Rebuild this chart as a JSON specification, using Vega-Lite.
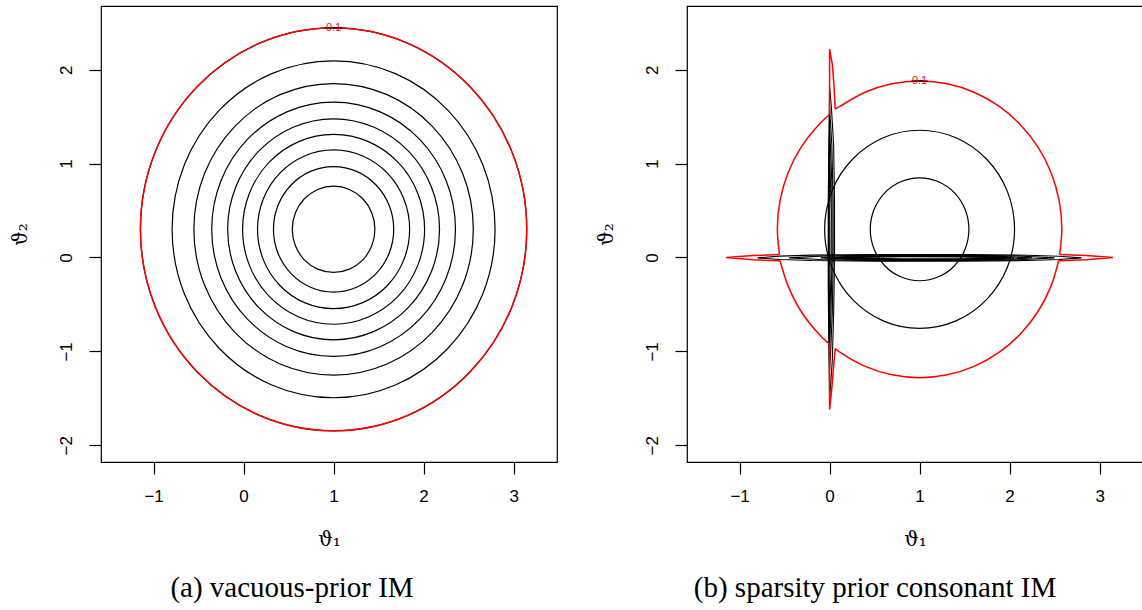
{
  "$schema": "https://vega.github.io/schema/vega-lite/v6.json",
  "background": "white",
  "padding": {"left": 9, "top": 5, "right": 0, "bottom": 0},
  "spacing": 37,
  "datasets": {
    "vacuous": [
      {"contour":"a1","i":0,"t1":3.146,"t2":0.3},{"contour":"a1","i":1,"t1":2.983,"t2":1.121},{"contour":"a1","i":2,"t1":2.517,"t2":1.817},{"contour":"a1","i":3,"t1":1.821,"t2":2.283},{"contour":"a1","i":4,"t1":1,"t2":2.446},{"contour":"a1","i":5,"t1":0.179,"t2":2.283},{"contour":"a1","i":6,"t1":-0.517,"t2":1.817},{"contour":"a1","i":7,"t1":-0.983,"t2":1.121},{"contour":"a1","i":8,"t1":-1.146,"t2":0.3},{"contour":"a1","i":9,"t1":-0.983,"t2":-0.521},{"contour":"a1","i":10,"t1":-0.517,"t2":-1.217},{"contour":"a1","i":11,"t1":0.179,"t2":-1.683},{"contour":"a1","i":12,"t1":1,"t2":-1.846},{"contour":"a1","i":13,"t1":1.821,"t2":-1.683},{"contour":"a1","i":14,"t1":2.517,"t2":-1.217},{"contour":"a1","i":15,"t1":2.983,"t2":-0.521},
      {"contour":"a2","i":0,"t1":2.794,"t2":0.3},{"contour":"a2","i":1,"t1":2.658,"t2":0.987},{"contour":"a2","i":2,"t1":2.269,"t2":1.569},{"contour":"a2","i":3,"t1":1.687,"t2":1.958},{"contour":"a2","i":4,"t1":1,"t2":2.094},{"contour":"a2","i":5,"t1":0.313,"t2":1.958},{"contour":"a2","i":6,"t1":-0.269,"t2":1.569},{"contour":"a2","i":7,"t1":-0.658,"t2":0.987},{"contour":"a2","i":8,"t1":-0.794,"t2":0.3},{"contour":"a2","i":9,"t1":-0.658,"t2":-0.387},{"contour":"a2","i":10,"t1":-0.269,"t2":-0.969},{"contour":"a2","i":11,"t1":0.313,"t2":-1.358},{"contour":"a2","i":12,"t1":1,"t2":-1.494},{"contour":"a2","i":13,"t1":1.687,"t2":-1.358},{"contour":"a2","i":14,"t1":2.269,"t2":-0.969},{"contour":"a2","i":15,"t1":2.658,"t2":-0.387},
      {"contour":"a3","i":0,"t1":2.552,"t2":0.3},{"contour":"a3","i":1,"t1":2.434,"t2":0.894},{"contour":"a3","i":2,"t1":2.097,"t2":1.397},{"contour":"a3","i":3,"t1":1.594,"t2":1.734},{"contour":"a3","i":4,"t1":1,"t2":1.852},{"contour":"a3","i":5,"t1":0.406,"t2":1.734},{"contour":"a3","i":6,"t1":-0.097,"t2":1.397},{"contour":"a3","i":7,"t1":-0.434,"t2":0.894},{"contour":"a3","i":8,"t1":-0.552,"t2":0.3},{"contour":"a3","i":9,"t1":-0.434,"t2":-0.294},{"contour":"a3","i":10,"t1":-0.097,"t2":-0.797},{"contour":"a3","i":11,"t1":0.406,"t2":-1.134},{"contour":"a3","i":12,"t1":1,"t2":-1.252},{"contour":"a3","i":13,"t1":1.594,"t2":-1.134},{"contour":"a3","i":14,"t1":2.097,"t2":-0.797},{"contour":"a3","i":15,"t1":2.434,"t2":-0.294},
      {"contour":"a4","i":0,"t1":2.354,"t2":0.3},{"contour":"a4","i":1,"t1":2.251,"t2":0.818},{"contour":"a4","i":2,"t1":1.957,"t2":1.257},{"contour":"a4","i":3,"t1":1.518,"t2":1.551},{"contour":"a4","i":4,"t1":1,"t2":1.654},{"contour":"a4","i":5,"t1":0.482,"t2":1.551},{"contour":"a4","i":6,"t1":0.043,"t2":1.257},{"contour":"a4","i":7,"t1":-0.251,"t2":0.818},{"contour":"a4","i":8,"t1":-0.354,"t2":0.3},{"contour":"a4","i":9,"t1":-0.251,"t2":-0.218},{"contour":"a4","i":10,"t1":0.043,"t2":-0.657},{"contour":"a4","i":11,"t1":0.482,"t2":-0.951},{"contour":"a4","i":12,"t1":1,"t2":-1.054},{"contour":"a4","i":13,"t1":1.518,"t2":-0.951},{"contour":"a4","i":14,"t1":1.957,"t2":-0.657},{"contour":"a4","i":15,"t1":2.251,"t2":-0.218},
      {"contour":"a5","i":0,"t1":2.177,"t2":0.3},{"contour":"a5","i":1,"t1":2.087,"t2":0.75},{"contour":"a5","i":2,"t1":1.832,"t2":1.132},{"contour":"a5","i":3,"t1":1.45,"t2":1.387},{"contour":"a5","i":4,"t1":1,"t2":1.477},{"contour":"a5","i":5,"t1":0.55,"t2":1.387},{"contour":"a5","i":6,"t1":0.168,"t2":1.132},{"contour":"a5","i":7,"t1":-0.087,"t2":0.75},{"contour":"a5","i":8,"t1":-0.177,"t2":0.3},{"contour":"a5","i":9,"t1":-0.087,"t2":-0.15},{"contour":"a5","i":10,"t1":0.168,"t2":-0.532},{"contour":"a5","i":11,"t1":0.55,"t2":-0.787},{"contour":"a5","i":12,"t1":1,"t2":-0.877},{"contour":"a5","i":13,"t1":1.45,"t2":-0.787},{"contour":"a5","i":14,"t1":1.832,"t2":-0.532},{"contour":"a5","i":15,"t1":2.087,"t2":-0.15},
      {"contour":"a6","i":0,"t1":2.011,"t2":0.3},{"contour":"a6","i":1,"t1":1.934,"t2":0.687},{"contour":"a6","i":2,"t1":1.715,"t2":1.015},{"contour":"a6","i":3,"t1":1.387,"t2":1.234},{"contour":"a6","i":4,"t1":1,"t2":1.311},{"contour":"a6","i":5,"t1":0.613,"t2":1.234},{"contour":"a6","i":6,"t1":0.285,"t2":1.015},{"contour":"a6","i":7,"t1":0.066,"t2":0.687},{"contour":"a6","i":8,"t1":-0.011,"t2":0.3},{"contour":"a6","i":9,"t1":0.066,"t2":-0.087},{"contour":"a6","i":10,"t1":0.285,"t2":-0.415},{"contour":"a6","i":11,"t1":0.613,"t2":-0.634},{"contour":"a6","i":12,"t1":1,"t2":-0.711},{"contour":"a6","i":13,"t1":1.387,"t2":-0.634},{"contour":"a6","i":14,"t1":1.715,"t2":-0.415},{"contour":"a6","i":15,"t1":1.934,"t2":-0.087},
      {"contour":"a7","i":0,"t1":1.845,"t2":0.3},{"contour":"a7","i":1,"t1":1.781,"t2":0.623},{"contour":"a7","i":2,"t1":1.598,"t2":0.898},{"contour":"a7","i":3,"t1":1.323,"t2":1.081},{"contour":"a7","i":4,"t1":1,"t2":1.145},{"contour":"a7","i":5,"t1":0.677,"t2":1.081},{"contour":"a7","i":6,"t1":0.403,"t2":0.898},{"contour":"a7","i":7,"t1":0.219,"t2":0.623},{"contour":"a7","i":8,"t1":0.155,"t2":0.3},{"contour":"a7","i":9,"t1":0.219,"t2":-0.023},{"contour":"a7","i":10,"t1":0.403,"t2":-0.298},{"contour":"a7","i":11,"t1":0.677,"t2":-0.481},{"contour":"a7","i":12,"t1":1,"t2":-0.545},{"contour":"a7","i":13,"t1":1.323,"t2":-0.481},{"contour":"a7","i":14,"t1":1.598,"t2":-0.298},{"contour":"a7","i":15,"t1":1.781,"t2":-0.023},
      {"contour":"a8","i":0,"t1":1.668,"t2":0.3},{"contour":"a8","i":1,"t1":1.617,"t2":0.556},{"contour":"a8","i":2,"t1":1.472,"t2":0.772},{"contour":"a8","i":3,"t1":1.256,"t2":0.917},{"contour":"a8","i":4,"t1":1,"t2":0.968},{"contour":"a8","i":5,"t1":0.744,"t2":0.917},{"contour":"a8","i":6,"t1":0.528,"t2":0.772},{"contour":"a8","i":7,"t1":0.383,"t2":0.556},{"contour":"a8","i":8,"t1":0.332,"t2":0.3},{"contour":"a8","i":9,"t1":0.383,"t2":0.044},{"contour":"a8","i":10,"t1":0.528,"t2":-0.172},{"contour":"a8","i":11,"t1":0.744,"t2":-0.317},{"contour":"a8","i":12,"t1":1,"t2":-0.368},{"contour":"a8","i":13,"t1":1.256,"t2":-0.317},{"contour":"a8","i":14,"t1":1.472,"t2":-0.172},{"contour":"a8","i":15,"t1":1.617,"t2":0.044},
      {"contour":"a9","i":0,"t1":1.459,"t2":0.3},{"contour":"a9","i":1,"t1":1.424,"t2":0.476},{"contour":"a9","i":2,"t1":1.325,"t2":0.625},{"contour":"a9","i":3,"t1":1.176,"t2":0.724},{"contour":"a9","i":4,"t1":1,"t2":0.759},{"contour":"a9","i":5,"t1":0.824,"t2":0.724},{"contour":"a9","i":6,"t1":0.675,"t2":0.625},{"contour":"a9","i":7,"t1":0.576,"t2":0.476},{"contour":"a9","i":8,"t1":0.541,"t2":0.3},{"contour":"a9","i":9,"t1":0.576,"t2":0.124},{"contour":"a9","i":10,"t1":0.675,"t2":-0.025},{"contour":"a9","i":11,"t1":0.824,"t2":-0.124},{"contour":"a9","i":12,"t1":1,"t2":-0.159},{"contour":"a9","i":13,"t1":1.176,"t2":-0.124},{"contour":"a9","i":14,"t1":1.325,"t2":-0.025},{"contour":"a9","i":15,"t1":1.424,"t2":0.124}
    ],
    "sparsity_circles": [
      {"contour":"b2","i":0,"t1":2.055,"t2":0.3},{"contour":"b2","i":1,"t1":1.975,"t2":0.704},{"contour":"b2","i":2,"t1":1.746,"t2":1.046},{"contour":"b2","i":3,"t1":1.404,"t2":1.275},{"contour":"b2","i":4,"t1":1,"t2":1.355},{"contour":"b2","i":5,"t1":0.596,"t2":1.275},{"contour":"b2","i":6,"t1":0.254,"t2":1.046},{"contour":"b2","i":7,"t1":0.025,"t2":0.704},{"contour":"b2","i":8,"t1":-0.055,"t2":0.3},{"contour":"b2","i":9,"t1":0.025,"t2":-0.104},{"contour":"b2","i":10,"t1":0.254,"t2":-0.446},{"contour":"b2","i":11,"t1":0.596,"t2":-0.675},{"contour":"b2","i":12,"t1":1,"t2":-0.755},{"contour":"b2","i":13,"t1":1.404,"t2":-0.675},{"contour":"b2","i":14,"t1":1.746,"t2":-0.446},{"contour":"b2","i":15,"t1":1.975,"t2":-0.104},
      {"contour":"b3","i":0,"t1":1.548,"t2":0.3},{"contour":"b3","i":1,"t1":1.506,"t2":0.51},{"contour":"b3","i":2,"t1":1.388,"t2":0.688},{"contour":"b3","i":3,"t1":1.21,"t2":0.806},{"contour":"b3","i":4,"t1":1,"t2":0.848},{"contour":"b3","i":5,"t1":0.79,"t2":0.806},{"contour":"b3","i":6,"t1":0.613,"t2":0.688},{"contour":"b3","i":7,"t1":0.494,"t2":0.51},{"contour":"b3","i":8,"t1":0.452,"t2":0.3},{"contour":"b3","i":9,"t1":0.494,"t2":0.09},{"contour":"b3","i":10,"t1":0.613,"t2":-0.088},{"contour":"b3","i":11,"t1":0.79,"t2":-0.206},{"contour":"b3","i":12,"t1":1,"t2":-0.248},{"contour":"b3","i":13,"t1":1.21,"t2":-0.206},{"contour":"b3","i":14,"t1":1.388,"t2":-0.088},{"contour":"b3","i":15,"t1":1.506,"t2":0.09}
    ],
    "sparsity_red": [
      {"piece":"arc_ur","kind":"arc","i":1,"t1":2.556,"t2":0.032},{"piece":"arc_ur","kind":"arc","i":2,"t1":2.58,"t2":0.3},{"piece":"arc_ur","kind":"arc","i":3,"t1":2.55,"t2":0.608},{"piece":"arc_ur","kind":"arc","i":4,"t1":2.46,"t2":0.905},{"piece":"arc_ur","kind":"arc","i":5,"t1":2.314,"t2":1.178},{"piece":"arc_ur","kind":"arc","i":6,"t1":2.117,"t2":1.417},{"piece":"arc_ur","kind":"arc","i":7,"t1":1.878,"t2":1.614},{"piece":"arc_ur","kind":"arc","i":8,"t1":1.605,"t2":1.76},{"piece":"arc_ur","kind":"arc","i":9,"t1":1.308,"t2":1.85},{"piece":"arc_ur","kind":"arc","i":10,"t1":1,"t2":1.88},{"piece":"arc_ur","kind":"arc","i":11,"t1":0.692,"t2":1.85},{"piece":"arc_ur","kind":"arc","i":12,"t1":0.395,"t2":1.76},{"piece":"arc_ur","kind":"arc","i":13,"t1":0.122,"t2":1.614},{"piece":"arc_ur","kind":"arc","i":14,"t1":0.063,"t2":1.58},
      {"piece":"spike_t","kind":"spike","i":1,"t1":0.063,"t2":1.58},{"piece":"spike_t","kind":"spike","i":2,"t1":0.048,"t2":1.85},{"piece":"spike_t","kind":"spike","i":3,"t1":0.03,"t2":2.06},{"piece":"spike_t","kind":"spike","i":4,"t1":0,"t2":2.22},{"piece":"spike_t","kind":"spike","i":5,"t1":0,"t2":1.523},
      {"piece":"arc_ul","kind":"arc","i":1,"t1":0,"t2":1.523},{"piece":"arc_ul","kind":"arc","i":2,"t1":-0.117,"t2":1.417},{"piece":"arc_ul","kind":"arc","i":3,"t1":-0.314,"t2":1.178},{"piece":"arc_ul","kind":"arc","i":4,"t1":-0.46,"t2":0.905},{"piece":"arc_ul","kind":"arc","i":5,"t1":-0.55,"t2":0.608},{"piece":"arc_ul","kind":"arc","i":6,"t1":-0.58,"t2":0.3},{"piece":"arc_ul","kind":"arc","i":7,"t1":-0.556,"t2":0.032},
      {"piece":"spike_l","kind":"spike","i":1,"t1":-0.556,"t2":0.032},{"piece":"spike_l","kind":"spike","i":2,"t1":-0.85,"t2":0.02},{"piece":"spike_l","kind":"spike","i":3,"t1":-1.148,"t2":0},{"piece":"spike_l","kind":"spike","i":4,"t1":-0.85,"t2":-0.025},{"piece":"spike_l","kind":"spike","i":5,"t1":-0.55,"t2":-0.035},
      {"piece":"arc_ll","kind":"arc","i":1,"t1":-0.55,"t2":-0.035},{"piece":"arc_ll","kind":"arc","i":2,"t1":-0.46,"t2":-0.305},{"piece":"arc_ll","kind":"arc","i":3,"t1":-0.314,"t2":-0.578},{"piece":"arc_ll","kind":"arc","i":4,"t1":-0.117,"t2":-0.817},{"piece":"arc_ll","kind":"arc","i":5,"t1":0,"t2":-0.923},
      {"piece":"spike_b","kind":"spike","i":1,"t1":0,"t2":-0.923},{"piece":"spike_b","kind":"spike","i":2,"t1":0,"t2":-1.62},{"piece":"spike_b","kind":"spike","i":3,"t1":0.026,"t2":-1.38},{"piece":"spike_b","kind":"spike","i":4,"t1":0.044,"t2":-1.167},{"piece":"spike_b","kind":"spike","i":5,"t1":0.063,"t2":-0.971},
      {"piece":"arc_lr","kind":"arc","i":1,"t1":0.063,"t2":-0.971},{"piece":"arc_lr","kind":"arc","i":2,"t1":0.122,"t2":-1.014},{"piece":"arc_lr","kind":"arc","i":3,"t1":0.395,"t2":-1.16},{"piece":"arc_lr","kind":"arc","i":4,"t1":0.692,"t2":-1.25},{"piece":"arc_lr","kind":"arc","i":5,"t1":1,"t2":-1.28},{"piece":"arc_lr","kind":"arc","i":6,"t1":1.308,"t2":-1.25},{"piece":"arc_lr","kind":"arc","i":7,"t1":1.605,"t2":-1.16},{"piece":"arc_lr","kind":"arc","i":8,"t1":1.878,"t2":-1.014},{"piece":"arc_lr","kind":"arc","i":9,"t1":2.117,"t2":-0.817},{"piece":"arc_lr","kind":"arc","i":10,"t1":2.314,"t2":-0.578},{"piece":"arc_lr","kind":"arc","i":11,"t1":2.46,"t2":-0.305},{"piece":"arc_lr","kind":"arc","i":12,"t1":2.545,"t2":-0.035},
      {"piece":"spike_r","kind":"spike","i":1,"t1":2.545,"t2":-0.035},{"piece":"spike_r","kind":"spike","i":2,"t1":2.85,"t2":-0.025},{"piece":"spike_r","kind":"spike","i":3,"t1":3.148,"t2":0},{"piece":"spike_r","kind":"spike","i":4,"t1":2.85,"t2":0.02},{"piece":"spike_r","kind":"spike","i":5,"t1":2.556,"t2":0.032}
    ],
    "sparsity_bands": [
      {"contour":"h1","i":1,"t1":-0.8,"t2":-0.004},{"contour":"h1","i":2,"t1":-0.55,"t2":0.014},{"contour":"h1","i":3,"t1":-0.2,"t2":0.025},{"contour":"h1","i":4,"t1":0.5,"t2":0.031},{"contour":"h1","i":5,"t1":1.5,"t2":0.031},{"contour":"h1","i":6,"t1":2.2,"t2":0.024},{"contour":"h1","i":7,"t1":2.55,"t2":0.013},{"contour":"h1","i":8,"t1":2.8,"t2":-0.004},{"contour":"h1","i":9,"t1":2.55,"t2":-0.021},{"contour":"h1","i":10,"t1":2.2,"t2":-0.032},{"contour":"h1","i":11,"t1":1.5,"t2":-0.039},{"contour":"h1","i":12,"t1":0.5,"t2":-0.039},{"contour":"h1","i":13,"t1":-0.2,"t2":-0.033},{"contour":"h1","i":14,"t1":-0.55,"t2":-0.022},
      {"contour":"h2","i":1,"t1":-0.45,"t2":-0.004},{"contour":"h2","i":2,"t1":-0.1,"t2":0.014},{"contour":"h2","i":3,"t1":0.5,"t2":0.025},{"contour":"h2","i":4,"t1":1.5,"t2":0.025},{"contour":"h2","i":5,"t1":2.1,"t2":0.016},{"contour":"h2","i":6,"t1":2.5,"t2":-0.004},{"contour":"h2","i":7,"t1":2.1,"t2":-0.024},{"contour":"h2","i":8,"t1":1.5,"t2":-0.033},{"contour":"h2","i":9,"t1":0.5,"t2":-0.033},{"contour":"h2","i":10,"t1":-0.1,"t2":-0.022},
      {"contour":"h3","i":1,"t1":-0.1,"t2":-0.004},{"contour":"h3","i":2,"t1":0.3,"t2":0.016},{"contour":"h3","i":3,"t1":1.2,"t2":0.02},{"contour":"h3","i":4,"t1":1.9,"t2":0.012},{"contour":"h3","i":5,"t1":2.25,"t2":-0.004},{"contour":"h3","i":6,"t1":1.9,"t2":-0.02},{"contour":"h3","i":7,"t1":1.2,"t2":-0.028},{"contour":"h3","i":8,"t1":0.3,"t2":-0.024},
      {"contour":"h4","i":1,"t1":0,"t2":-0.004},{"contour":"h4","i":2,"t1":0.5,"t2":0.012},{"contour":"h4","i":3,"t1":1.3,"t2":0.014},{"contour":"h4","i":4,"t1":2.05,"t2":-0.004},{"contour":"h4","i":5,"t1":1.3,"t2":-0.022},{"contour":"h4","i":6,"t1":0.5,"t2":-0.02},
      {"contour":"h5","i":1,"t1":0.05,"t2":-0.004},{"contour":"h5","i":2,"t1":0.8,"t2":0.007},{"contour":"h5","i":3,"t1":1.5,"t2":0.006},{"contour":"h5","i":4,"t1":1.95,"t2":-0.004},{"contour":"h5","i":5,"t1":1.5,"t2":-0.014},{"contour":"h5","i":6,"t1":0.8,"t2":-0.015},
      {"contour":"h6","i":1,"t1":0.02,"t2":-0.004},{"contour":"h6","i":2,"t1":0.6,"t2":0.02},{"contour":"h6","i":3,"t1":1.6,"t2":0.018},{"contour":"h6","i":4,"t1":2.0,"t2":-0.004},{"contour":"h6","i":5,"t1":1.6,"t2":-0.026},{"contour":"h6","i":6,"t1":0.6,"t2":-0.028},
      {"contour":"v1","i":1,"t1":0,"t2":1.82},{"contour":"v1","i":2,"t1":0.02,"t2":1.6},{"contour":"v1","i":3,"t1":0.045,"t2":1.2},{"contour":"v1","i":4,"t1":0.055,"t2":0.6},{"contour":"v1","i":5,"t1":0.055,"t2":0},{"contour":"v1","i":6,"t1":0.045,"t2":-0.6},{"contour":"v1","i":7,"t1":0.03,"t2":-1.1},{"contour":"v1","i":8,"t1":0.012,"t2":-1.35},{"contour":"v1","i":9,"t1":0,"t2":-1.5},{"contour":"v1","i":10,"t1":-0.006,"t2":-1.1},{"contour":"v1","i":11,"t1":-0.015,"t2":-0.3},{"contour":"v1","i":12,"t1":-0.015,"t2":0.6},{"contour":"v1","i":13,"t1":-0.006,"t2":1.3},
      {"contour":"v2","i":1,"t1":0,"t2":1.6},{"contour":"v2","i":2,"t1":0.025,"t2":1.2},{"contour":"v2","i":3,"t1":0.04,"t2":0.6},{"contour":"v2","i":4,"t1":0.04,"t2":0},{"contour":"v2","i":5,"t1":0.03,"t2":-0.6},{"contour":"v2","i":6,"t1":0.012,"t2":-1},{"contour":"v2","i":7,"t1":0,"t2":-1.2},{"contour":"v2","i":8,"t1":-0.01,"t2":-0.6},{"contour":"v2","i":9,"t1":-0.012,"t2":0},{"contour":"v2","i":10,"t1":-0.01,"t2":0.8},
      {"contour":"v3","i":1,"t1":0,"t2":1.4},{"contour":"v3","i":2,"t1":0.025,"t2":0.8},{"contour":"v3","i":3,"t1":0.028,"t2":0},{"contour":"v3","i":4,"t1":0.015,"t2":-0.6},{"contour":"v3","i":5,"t1":0,"t2":-0.95},{"contour":"v3","i":6,"t1":-0.008,"t2":-0.4},{"contour":"v3","i":7,"t1":-0.008,"t2":0.3},{"contour":"v3","i":8,"t1":-0.005,"t2":1},
      {"contour":"v4","i":1,"t1":0,"t2":1.15},{"contour":"v4","i":2,"t1":0.018,"t2":0.5},{"contour":"v4","i":3,"t1":0.015,"t2":-0.2},{"contour":"v4","i":4,"t1":0,"t2":-0.7},{"contour":"v4","i":5,"t1":-0.004,"t2":-0.2},{"contour":"v4","i":6,"t1":-0.004,"t2":0.5}
    ],
    "label_gaps": [
      {"panel":"a","i":1,"t1":0.91,"t2":2.444},{"panel":"a","i":2,"t1":1,"t2":2.446},{"panel":"a","i":3,"t1":1.09,"t2":2.444},
      {"panel":"b","i":1,"t1":0.91,"t2":1.877},{"panel":"b","i":2,"t1":1,"t2":1.88},{"panel":"b","i":3,"t1":1.09,"t2":1.877}
    ],
    "labels": [
      {"panel":"a","t1":1,"t2":2.446,"text":"0.1"},
      {"panel":"b","t1":1,"t2":1.88,"text":"0.1"}
    ]
  },
  "hconcat": [
    {
      "width": 456,
      "height": 456,
      "title": {"text": "(a) vacuous-prior IM", "dx": -37},
      "encoding": {
        "x": {"field": "t1", "type": "quantitative", "scale": {"domain": [-1.584, 3.482], "nice": false, "zero": false}, "axis": {"title": "ϑ₁", "values": [-1, 0, 1, 2, 3]}},
        "y": {"field": "t2", "type": "quantitative", "scale": {"domain": [-2.178, 2.678], "nice": false, "zero": false}, "axis": {"title": "ϑ₂", "values": [-2, -1, 0, 1, 2]}}
      },
      "layer": [
        {"data": {"name": "vacuous"}, "mark": {"type": "line", "interpolate": "cardinal-closed", "color": "black", "strokeWidth": 1.2}, "encoding": {"detail": {"field": "contour"}, "order": {"field": "i"}}},
        {"data": {"name": "vacuous"}, "transform": [{"filter": "datum.contour == 'a1'"}], "mark": {"type": "line", "interpolate": "cardinal-closed", "color": "#ff0000", "strokeWidth": 1.5}, "encoding": {"detail": {"field": "contour"}, "order": {"field": "i"}}},
        {"data": {"name": "label_gaps"}, "transform": [{"filter": "datum.panel == 'a'"}], "mark": {"type": "line", "interpolate": "cardinal", "color": "black", "strokeWidth": 1.2}, "encoding": {"order": {"field": "i"}}},
        {"data": {"name": "labels"}, "transform": [{"filter": "datum.panel == 'a'"}], "mark": {"type": "text", "color": "#ff0000", "font": "Liberation Sans", "fontSize": 11, "align": "center", "baseline": "middle"}, "encoding": {"text": {"field": "text"}}}
      ]
    },
    {
      "width": 456,
      "height": 456,
      "title": {"text": "(b) sparsity prior consonant IM", "dx": -40},
      "encoding": {
        "x": {"field": "t1", "type": "quantitative", "scale": {"domain": [-1.584, 3.482], "nice": false, "zero": false}, "axis": {"title": "ϑ₁", "values": [-1, 0, 1, 2, 3]}},
        "y": {"field": "t2", "type": "quantitative", "scale": {"domain": [-2.178, 2.678], "nice": false, "zero": false}, "axis": {"title": "ϑ₂", "values": [-2, -1, 0, 1, 2]}}
      },
      "layer": [
        {"data": {"name": "sparsity_bands"}, "mark": {"type": "line", "interpolate": "linear-closed", "color": "black", "strokeWidth": 1.1}, "encoding": {"detail": {"field": "contour"}, "order": {"field": "i"}}},
        {"data": {"name": "sparsity_circles"}, "mark": {"type": "line", "interpolate": "cardinal-closed", "color": "black", "strokeWidth": 1.2}, "encoding": {"detail": {"field": "contour"}, "order": {"field": "i"}}},
        {"data": {"name": "sparsity_red"}, "transform": [{"filter": "datum.kind == 'arc'"}], "mark": {"type": "line", "interpolate": "catmull-rom", "color": "#ff0000", "strokeWidth": 1.5}, "encoding": {"detail": {"field": "piece"}, "order": {"field": "i"}}},
        {"data": {"name": "sparsity_red"}, "transform": [{"filter": "datum.kind == 'spike'"}], "mark": {"type": "line", "interpolate": "linear", "color": "#ff0000", "strokeWidth": 1.5, "strokeJoin": "miter"}, "encoding": {"detail": {"field": "piece"}, "order": {"field": "i"}}},
        {"data": {"name": "label_gaps"}, "transform": [{"filter": "datum.panel == 'b'"}], "mark": {"type": "line", "interpolate": "cardinal", "color": "black", "strokeWidth": 1.2}, "encoding": {"order": {"field": "i"}}},
        {"data": {"name": "labels"}, "transform": [{"filter": "datum.panel == 'b'"}], "mark": {"type": "text", "color": "#ff0000", "font": "Liberation Sans", "fontSize": 11, "align": "center", "baseline": "middle"}, "encoding": {"text": {"field": "text"}}}
      ]
    }
  ],
  "config": {
    "view": {"stroke": "black", "strokeWidth": 1.2},
    "axis": {"grid": false, "domain": false, "ticks": true, "tickColor": "black", "tickSize": 12, "tickWidth": 1.2, "labelFont": "Liberation Sans", "labelFontSize": 17, "labelColor": "black", "labelFlush": false, "labelOverlap": false, "titleFont": "DejaVu Serif", "titleFontSize": 20, "titleFontWeight": "normal", "titleColor": "black"},
    "axisX": {"labelPadding": 14, "labelBaseline": "top", "titlePadding": 25},
    "axisY": {"labelAngle": 270, "labelAlign": "center", "labelBaseline": "bottom", "labelPadding": 14, "titlePadding": 27},
    "title": {"orient": "bottom", "anchor": "middle", "font": "Liberation Serif", "fontSize": 29, "fontWeight": "normal", "color": "black", "offset": 25}
  }
}
